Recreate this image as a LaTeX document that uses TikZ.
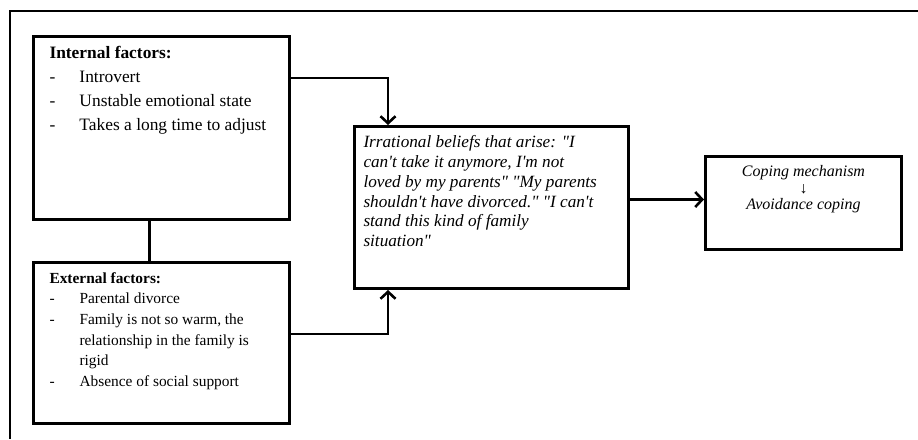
\documentclass[tikz,border=0pt]{standalone}
\usepackage{fontspec}
\setmainfont{Liberation Serif}
\newfontfamily\beliefsfont{Liberation Serif}
\usetikzlibrary{arrows.meta}
\tikzset{>={Straight Barb[length=7pt,width=15pt]}}
\tikzset{frame/.style={line width=2pt}}
\tikzset{factorbox/.style={draw,line width=3pt,anchor=north west,inner xsep=16pt,inner ysep=10pt}}
\tikzset{beliefbox/.style={draw,line width=3pt,anchor=north west,inner xsep=9pt,inner ysep=9pt}}
\tikzset{link/.style={line width=2.6pt}}
\newcommand\dashitem[1]{\makebox[30pt][l]{-}#1}

\begin{document}
\begin{tikzpicture}[x=1pt,y=-1pt]
  \useasboundingbox (0,0) rectangle (918,439);
  \draw[frame] (918,11) -- (10,11) -- (10,439);
  % left column
  \node[factorbox] (int) at (32,35) {\parbox[c][163pt][t]{224pt}{\fontsize{17.4}{24}\selectfont
      \textbf{Internal factors:}\\
      \dashitem{Introvert}\\
      \dashitem{Unstable emotional state}\\
      \dashitem{Takes a long time to adjust}}};
  \node[factorbox] (ext) at (32,261) {\parbox[c][141pt][t]{224pt}{\fontsize{15.4}{20.6}\selectfont
      \textbf{External factors:}\\
      \dashitem{Parental divorce}\\
      \dashitem{Family is not so warm, the}\\
      \hspace*{30pt}relationship in the family is\\
      \hspace*{30pt}rigid\\
      \dashitem{Absence of social support}}};
  % middle and right
  \node[beliefbox] (mid) at (353,125) {\parbox[c][144pt][t]{256pt}{\beliefsfont\fontsize{17.2}{19.8}\selectfont\itshape
      Irrational beliefs that arise: "I\\
      can't take it anymore, I'm not\\
      loved by my parents" "My parents\\
      shouldn't have divorced." "I can't\\
      stand this kind of family\\
      situation"}};
  \node[beliefbox] (cop) at (704,155) {\parbox[c][75pt][t]{178pt}{\centering\beliefsfont\fontsize{16}{16.5}\selectfont\itshape
      Coping mechanism\\
      ↓\\
      Avoidance coping}};
  \draw[link] ([xshift=-12pt]int.south) -- ([xshift=-12pt]ext.north);
  \draw[link,->] ([yshift=-43pt]int.north east) -| ([xshift=35pt]mid.north west);
  \draw[link,->] ([yshift=9pt]ext.east) -| ([xshift=35pt]mid.south west);
  \draw[link,->] ([yshift=8pt]mid.east) -- ([yshift=8pt]mid.east -| cop.west);
\end{tikzpicture}
\end{document}
